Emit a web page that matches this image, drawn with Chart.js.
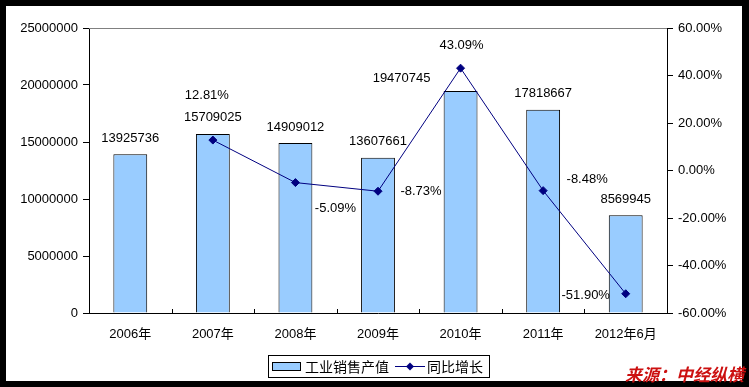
<!DOCTYPE html>
<html>
<head>
<meta charset="utf-8">
<script src="https://cdn.jsdelivr.net/npm/chart.js@4"></script>
<style>
  html, body { margin: 0; padding: 0; background: #000; }
  body { width: 749px; height: 387px; position: relative; overflow: hidden; }
  #box { position: absolute; left: 6px; top: 6px; width: 736px; height: 375px; background: #fff; }
  #source { position: absolute; left: 625px; top: 361px; font: italic bold 17px "Noto Sans CJK SC", sans-serif; color: #cc1010; white-space: nowrap; }
</style>
</head>
<body>
<div id="box"><canvas id="grafico"></canvas></div>
<div id="source">来源：中经纵横</div>
<script>
const categorias = ['2006年', '2007年', '2008年', '2009年', '2010年', '2011年', '2012年6月'];
const valoresVendas = [13925736, 15709025, 14909012, 13607661, 19470745, 17818667, 8569945];
const crescimento = [null, 12.81, -5.09, -8.73, 43.09, -8.48, -51.90];
const nomesSeries = ['工业销售产值', '同比增长'];

const fonteNum = '13px "Liberation Sans", Arial, sans-serif';
const fonteCJK = '14px "Noto Sans CJK SC", sans-serif';

// deslocamento dos rótulos em relação ao topo da barra / ao ponto
const offsetsBarra = [[0, -16], [0, -16], [0, -16], [0, -16], [-59, -13], [0, -16], [0, -16]];
const offsetsPct = [[0, 0], [-6, -45], [40, 26], [43, 0], [1, -23], [44, -11], [-40, 2]];

const rotulosPlugin = {
  id: 'rotulos',
  afterDatasetsDraw(chart) {
    const ctx = chart.ctx;
    ctx.save();
    ctx.font = fonteNum;
    ctx.fillStyle = '#000';
    ctx.textAlign = 'center';
    ctx.textBaseline = 'middle';

    const barMeta = chart.getDatasetMeta(1);
    barMeta.data.forEach((bar, i) => {
      const [dx, dy] = offsetsBarra[i];
      ctx.fillText(String(valoresVendas[i]), bar.x + dx, bar.y + dy);
    });

    const lineMeta = chart.getDatasetMeta(0);
    lineMeta.data.forEach((pt, i) => {
      if (crescimento[i] === null) return;
      const [dx, dy] = offsetsPct[i];
      ctx.fillText(crescimento[i].toFixed(2) + '%', pt.x + dx, pt.y + dy);
    });
    ctx.restore();
  },
  afterDraw(chart) {
    const ctx = chart.ctx;
    const a = chart.chartArea;
    ctx.save();
    // linha cinza no topo
    ctx.strokeStyle = '#808080';
    ctx.lineWidth = 1;
    ctx.beginPath();
    ctx.moveTo(Math.round(a.left), Math.round(a.top) + 0.5);
    ctx.lineTo(Math.round(a.right), Math.round(a.top) + 0.5);
    ctx.stroke();

    // marcas entre categorias (para dentro)
    const w = (a.right - a.left) / categorias.length;
    ctx.strokeStyle = '#000';
    ctx.beginPath();
    for (let i = 1; i < categorias.length; i++) {
      const x = Math.round(a.left + i * w) + 0.5;
      ctx.moveTo(x, a.bottom);
      ctx.lineTo(x, a.bottom - 4);
    }
    ctx.stroke();

    // legenda
    const lx = 262, ly = 349, lw = 221, lh = 22;
    ctx.strokeStyle = '#000';
    ctx.strokeRect(lx + 0.5, ly + 0.5, lw, lh);
    const cy = ly + lh / 2 + 0.5;
    ctx.fillStyle = '#99CCFF';
    ctx.fillRect(lx + 4.5, cy - 4, 28, 8);
    ctx.strokeRect(lx + 4.5, cy - 4, 28, 8);
    ctx.fillStyle = '#000';
    ctx.font = fonteCJK;
    ctx.textAlign = 'left';
    ctx.textBaseline = 'middle';
    ctx.fillText(nomesSeries[0], lx + 37, cy);
    ctx.strokeStyle = '#000080';
    ctx.beginPath();
    ctx.moveTo(lx + 127, cy);
    ctx.lineTo(lx + 157, cy);
    ctx.stroke();
    ctx.fillStyle = '#000080';
    ctx.beginPath();
    ctx.moveTo(lx + 142, cy - 4);
    ctx.lineTo(lx + 146, cy);
    ctx.lineTo(lx + 142, cy + 4);
    ctx.lineTo(lx + 138, cy);
    ctx.closePath();
    ctx.fill();
    ctx.fillStyle = '#000';
    ctx.fillText(nomesSeries[1], lx + 159, cy);
    ctx.restore();
  }
};

const ctx = document.getElementById('grafico').getContext('2d');

new Chart(ctx, {
  type: 'bar',
  data: {
    labels: categorias,
    datasets: [
      {
        type: 'line',
        label: nomesSeries[1],
        data: crescimento,
        yAxisID: 'y1',
        borderColor: '#000080',
        borderWidth: 1,
        pointStyle: 'rectRot',
        pointRadius: 4,
        pointBackgroundColor: '#000080',
        pointBorderColor: '#000080',
        tension: 0,
        order: 0
      },
      {
        label: nomesSeries[0],
        data: valoresVendas,
        yAxisID: 'y',
        backgroundColor: '#99CCFF',
        borderColor: '#000',
        borderWidth: 1,
        categoryPercentage: 1,
        barPercentage: 0.41,
        order: 1
      }
    ]
  },
  options: {
    responsive: true,
    maintainAspectRatio: false,
    animation: false,
    layout: { padding: { top: 22, left: 0, right: 0, bottom: 0 } },
    plugins: {
      legend: { display: false },
      tooltip: { enabled: false }
    },
    scales: {
      x: {
        grid: { display: false },
        border: { color: '#000' },
        ticks: { color: '#000', font: { family: '"Liberation Sans", "Noto Sans CJK SC", sans-serif', size: 13 }, padding: 6, maxRotation: 0 },
        afterFit(s) { s.height = 68; }
      },
      y: {
        position: 'left',
        min: 0,
        max: 25000000,
        ticks: { stepSize: 5000000, color: '#000', font: { family: '"Liberation Sans", Arial, sans-serif', size: 13 }, padding: 5, callback: v => String(v) },
        grid: { drawOnChartArea: false, tickLength: 6, color: '#000' },
        border: { color: '#000' },
        afterFit(s) { s.width = 83; }
      },
      y1: {
        position: 'right',
        min: -60,
        max: 60,
        ticks: { stepSize: 20, color: '#000', font: { family: '"Liberation Sans", Arial, sans-serif', size: 13 }, padding: 5, callback: v => v.toFixed(2) + '%' },
        grid: { drawOnChartArea: false, tickLength: 6, color: '#000' },
        border: { color: '#000' },
        afterFit(s) { s.width = 75; }
      }
    }
  },
  plugins: [rotulosPlugin]
});
</script>
</body>
</html>
